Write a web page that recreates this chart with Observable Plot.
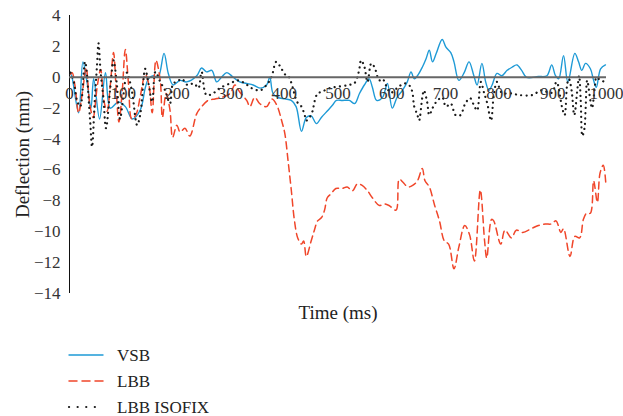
<!DOCTYPE html>
<html>
<head>
<meta charset="utf-8">
<script src="https://cdn.jsdelivr.net/npm/d3@7"></script>
<script src="https://cdn.jsdelivr.net/npm/@observablehq/plot@0.6"></script>
<style>
  html, body { margin: 0; padding: 0; background: #fff; }
  #wrap { width: 623px; height: 416px; position: relative; font-family: "Liberation Serif", serif; }
  #legend { position: absolute; left: 0; top: 336px; }
</style>
</head>
<body>
<div id="wrap"><div id="chart"></div><svg id="legend" width="623" height="80"></svg></div>
<script>
// [time (ms), deflection (mm)]
const VSB = [[2,0.2],[4,0.1],[17,-2.3],[25,1.0],[33,-0.4],[40,-2.0],[45,-0.1],[56,-2.7],[67,0.3],[76,-2.0],[91,-1.6],[104,-1.9],[117,-2.7],[132,-2.1],[141,-0.7],[147,-0.1],[156,0.1],[165,0.0],[176,1.55],[184,0.25],[193,-0.5],[206,-0.2],[218,-0.3],[237,0.1],[246,0.6],[255,0.35],[265,0.45],[274,-0.3],[283,0.0],[293,0.3],[305,0.0],[317,-0.3],[330,-0.4],[342,-0.5],[355,-0.7],[367,-0.5],[373,0.0],[379,-1.05],[388,-1.3],[401,-1.4],[413,-1.5],[422,-1.9],[432,-3.5],[441,-2.6],[450,-2.5],[460,-3.0],[469,-2.6],[481,-2.15],[490,-1.8],[497,-1.5],[508,-1.5],[521,-1.5],[531,-1.7],[540,-1.05],[549,-0.5],[558,-0.1],[564,-0.65],[572,-1.5],[583,-1.3],[592,-0.4],[601,-2.0],[610,-1.3],[620,-0.85],[629,-0.3],[636,0.35],[642,-0.1],[648,0.1],[657,0.65],[664,1.2],[670,1.75],[676,1.0],[683,1.55],[694,2.45],[701,1.95],[710,1.6],[716,1.0],[725,-0.2],[735,0.3],[744,1.0],[753,0.1],[759,-0.5],[768,0.9],[775,-0.3],[781,-0.85],[787,-0.5],[796,0.25],[805,0.1],[815,0.45],[824,0.65],[833,0.8],[842,0.45],[851,0.0],[873,0.05],[889,0.1],[898,0.8],[905,0.1],[911,-0.1],[920,1.4],[928,-0.3],[941,1.55],[948,1.0],[954,0.45],[961,0.9],[970,0.55],[976,-0.2],[981,-0.65],[989,0.55],[998,0.8]];

const LBB = [[2,0.2],[5,0.3],[10,-0.5],[17,-2.3],[24,-1.0],[31,0.6],[38,-1.8],[44,-2.6],[52,-0.5],[58,0.5],[64,-1.5],[70,-2.2],[76,-0.5],[82,1.6],[87,-0.8],[92,-2.9],[98,-1.0],[104,1.8],[110,-0.5],[116,-2.7],[124,-2.4],[132,-1.2],[141,0.2],[148,-0.5],[154,-2.3],[161,1.1],[169,-0.2],[173,-2.6],[180,-1.05],[187,-2.1],[192,-3.9],[200,-3.1],[206,-3.55],[215,-3.3],[224,-3.8],[237,-2.35],[246,-1.9],[258,-1.5],[271,-1.4],[283,-1.3],[299,-1.05],[308,-0.5],[317,-0.95],[330,-1.5],[336,-1.9],[345,-1.3],[354,-1.7],[367,-1.9],[377,-1.4],[386,-1.8],[395,-2.8],[401,-3.65],[407,-5.4],[413,-7.3],[419,-9.3],[425,-10.4],[432,-10.8],[436,-10.6],[441,-11.6],[450,-10.6],[456,-9.9],[462,-9.3],[469,-9.1],[475,-8.6],[480,-7.8],[487,-7.55],[496,-7.2],[508,-7.2],[517,-7.1],[527,-7.35],[536,-6.9],[545,-7.0],[555,-7.35],[564,-7.8],[577,-8.3],[586,-8.2],[595,-8.3],[608,-8.6],[614,-6.6],[621,-6.8],[630,-7.1],[639,-7.0],[648,-6.7],[657,-5.9],[662,-6.7],[670,-7.1],[680,-8.3],[689,-9.3],[698,-10.6],[706,-10.8],[716,-12.4],[725,-11.0],[736,-9.6],[745,-10.2],[754,-11.9],[765,-7.3],[773,-10.6],[777,-11.7],[786,-9.2],[790,-9.3],[803,-10.8],[811,-9.9],[823,-10.4],[832,-9.9],[844,-10.05],[860,-9.8],[873,-9.6],[886,-9.5],[897,-9.5],[906,-9.3],[915,-10.05],[920,-9.8],[932,-11.6],[941,-10.3],[950,-10.4],[957,-9.2],[963,-8.8],[970,-8.8],[976,-6.7],[983,-8.1],[988,-6.2],[994,-5.7],[999,-7.0]];

const LBB_ISOFIX = [[2,0.3],[8,-0.3],[14,-1.5],[20,-1.9],[29,1.0],[38,-2.6],[42,-4.5],[47,-1.5],[51,0.65],[54,2.2],[58,0.3],[63,-1.3],[68,-3.3],[76,-0.65],[82,1.1],[88,-0.4],[94,-2.7],[101,-1.0],[107,0.3],[116,-0.85],[126,-3.1],[132,-2.35],[141,0.55],[147,-0.4],[154,-1.6],[160,0.35],[169,-0.3],[178,-0.85],[187,-1.7],[193,-0.4],[200,-0.3],[209,-0.1],[220,-0.5],[232,-0.4],[240,-0.7],[246,0.35],[255,-1.15],[267,-1.05],[280,-0.7],[299,-0.4],[314,-0.2],[327,-0.4],[339,-0.7],[355,-0.85],[367,-0.5],[376,0.0],[385,1.0],[394,0.6],[401,0.2],[407,0.1],[413,-0.35],[424,-1.6],[432,-1.9],[438,-2.45],[441,-2.8],[447,-2.6],[453,-2.15],[456,-1.6],[462,-1.05],[469,-0.95],[485,-0.7],[502,-0.6],[520,-0.5],[530,-0.4],[536,0.0],[540,0.6],[543,1.1],[549,0.7],[555,-0.3],[562,0.9],[568,0.65],[577,-0.2],[583,-0.1],[589,-0.5],[598,-1.0],[610,-0.7],[623,-0.4],[632,-0.5],[638,-0.9],[642,-1.9],[648,-2.45],[651,-2.8],[657,-1.3],[660,-0.85],[666,-1.6],[670,-2.45],[676,-2.0],[683,-1.6],[694,-1.3],[701,-1.9],[710,-1.7],[719,-2.45],[728,-2.45],[737,-1.7],[746,-1.35],[753,-1.8],[759,-2.15],[766,-0.3],[772,-1.0],[778,-1.7],[785,-2.8],[790,-1.2],[796,-0.3],[805,-1.0],[824,-1.05],[837,-1.15],[862,-1.15],[878,-0.85],[898,-1.0],[907,-0.3],[917,-1.9],[922,-2.45],[927,-0.4],[930,-0.1],[935,-0.85],[940,-2.45],[946,-0.7],[949,0.1],[952,-1.5],[955,-3.8],[959,-3.3],[961,-2.15],[964,-0.2],[970,-1.5],[973,-2.0],[979,-0.4],[981,0.0],[989,-0.2],[998,-0.3]];

const xTicks = [0,100,200,300,400,500,600,700,800,900,1000];
const yTicks = [4,2,0,-2,-4,-6,-8,-10,-12,-14];

const series = [
  {name: "VSB", color: "#1e9ad6", dash: null, width: 1.4},
  {name: "LBB", color: "#f0462a", dash: "7,4.5", width: 1.5},
  {name: "LBB ISOFIX", color: "#1a1a1a", dash: "0.1,5.2", width: 2.2}
];
const seriesData = [VSB, LBB, LBB_ISOFIX];

const fmt = d => d < 0 ? "\u2212" + (-d) : String(d);

const chart = Plot.plot({
  width: 623, height: 336,
  marginLeft: 69, marginRight: 17, marginTop: 15, marginBottom: 43,
  x: {domain: [0, 1000], axis: null},
  y: {domain: [-14, 4], axis: null},
  style: {fontFamily: "Liberation Serif, serif", fontSize: "17px", color: "#333", background: "white", overflow: "visible"},
  marks: [
    Plot.ruleX([0], {stroke: "#111", strokeWidth: 1}),
    ...seriesData.map((data, i) => Plot.line(data, {
      x: d => d[0], y: d => d[1], curve: "catmull-rom",
      stroke: series[i].color, strokeWidth: series[i].width,
      strokeDasharray: series[i].dash, strokeLinecap: "round"
    })),
    Plot.ruleY([0], {stroke: "#666", strokeWidth: 2}),
    Plot.text(xTicks, {x: d => d, y: 0, dy: 16, text: d => String(d), fill: "#333", fontSize: 17}),
    Plot.text(yTicks, {x: 0, y: d => d, dx: -9, textAnchor: "end", text: fmt, fill: "#333", fontSize: 17}),
    Plot.text(["Deflection (mm)"], {frameAnchor: "left", dx: -47, rotate: -90, textAnchor: "middle", lineAnchor: "middle", text: d => d, fill: "#222", fontSize: 19}),
    Plot.text(["Time (ms)"], {frameAnchor: "bottom", dy: 19, textAnchor: "middle", lineAnchor: "middle", text: d => d, fill: "#222", fontSize: 19})
  ]
});
document.getElementById("chart").appendChild(chart);

// legend
const leg = d3.select("#legend");
series.forEach((s, i) => {
  const y = 19 + i * 26;
  leg.append("line").attr("x1", 69).attr("x2", 103).attr("y1", y).attr("y2", y)
    .attr("stroke", s.color).attr("stroke-width", s.width)
    .attr("stroke-dasharray", s.dash === null ? null : (i === 1 ? "8,5" : "0.1,8.5"))
    .attr("stroke-linecap", "round");
  leg.append("text").attr("x", 117).attr("y", y).attr("dy", "0.35em")
    .attr("font-family", "Liberation Serif, serif").attr("font-size", 17).attr("fill", "#222")
    .text(s.name);
});
</script>
</body>
</html>
